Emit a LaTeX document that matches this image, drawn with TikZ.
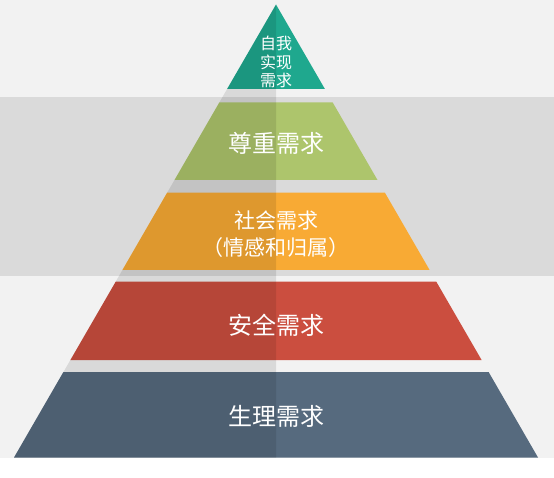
\documentclass[tikz,border=0pt]{standalone}
\usepackage{fontspec}
\setmainfont{Noto Sans CJK SC}
\usepackage{xcolor}

\definecolor{bandLight}{HTML}{F2F2F2}
\definecolor{bandDark}{HTML}{DADADA}
\definecolor{tealTop}{HTML}{1FA88E}
\definecolor{greenEsteem}{HTML}{ADC56C}
\definecolor{orangeSocial}{HTML}{F8AA34}
\definecolor{redSafety}{HTML}{CB4E3F}
\definecolor{blueBody}{HTML}{566A7E}

\begin{document}
\begin{tikzpicture}[
    x=1pt,
    y=-1pt,
    layer/.style={draw=none},
    label/.style={text=white, align=center, inner sep=0pt}
]

% Background bands
\fill[bandLight] (0,0) rectangle (554,97);
\fill[bandDark] (0,97) rectangle (554,276);
\fill[bandLight] (0,276) rectangle (554,458);
\fill[white] (0,458) rectangle (554,478);
\useasboundingbox (0,0) rectangle (554,478);

% Pyramid layers - top to bottom
\fill[layer, tealTop] (276,4.5) -- (324.9,89) -- (227.1,89) -- cycle;
\fill[layer, greenEsteem] (219.4,102.3) -- (332.6,102.3) -- (377.5,180) -- (174.5,180) -- cycle;
\fill[layer, orangeSocial] (167.1,192.7) -- (384.9,192.7) -- (429.6,270) -- (122.4,270) -- cycle;
\fill[layer, redSafety] (115.7,281.7) -- (436.3,281.7) -- (481.6,360) -- (70.4,360) -- cycle;
\fill[layer, blueBody] (63.4,372) -- (488.6,372) -- (538,457.5) -- (14,457.5) -- cycle;

% Shadow over the left half
\fill[black, opacity=0.1] (276,4.5) -- (276,457.5) -- (14,457.5) -- cycle;

% Labels
\node[label, font=\fontsize{16}{18.5}\selectfont] (selfActual) at (276,62) {自我\\实现\\需求};
\node[label, font=\fontsize{24}{28}\selectfont] (esteem) at (276,143) {尊重需求};
\node[label, font=\fontsize{21}{26.5}\selectfont] (social) at (276,234) {社会需求\\（情感和归属）};
\node[label, font=\fontsize{24}{28}\selectfont] (safety) at (276,325) {安全需求};
\node[label, font=\fontsize{24}{28}\selectfont] (body) at (276,416) {生理需求};

\end{tikzpicture}
\end{document}
